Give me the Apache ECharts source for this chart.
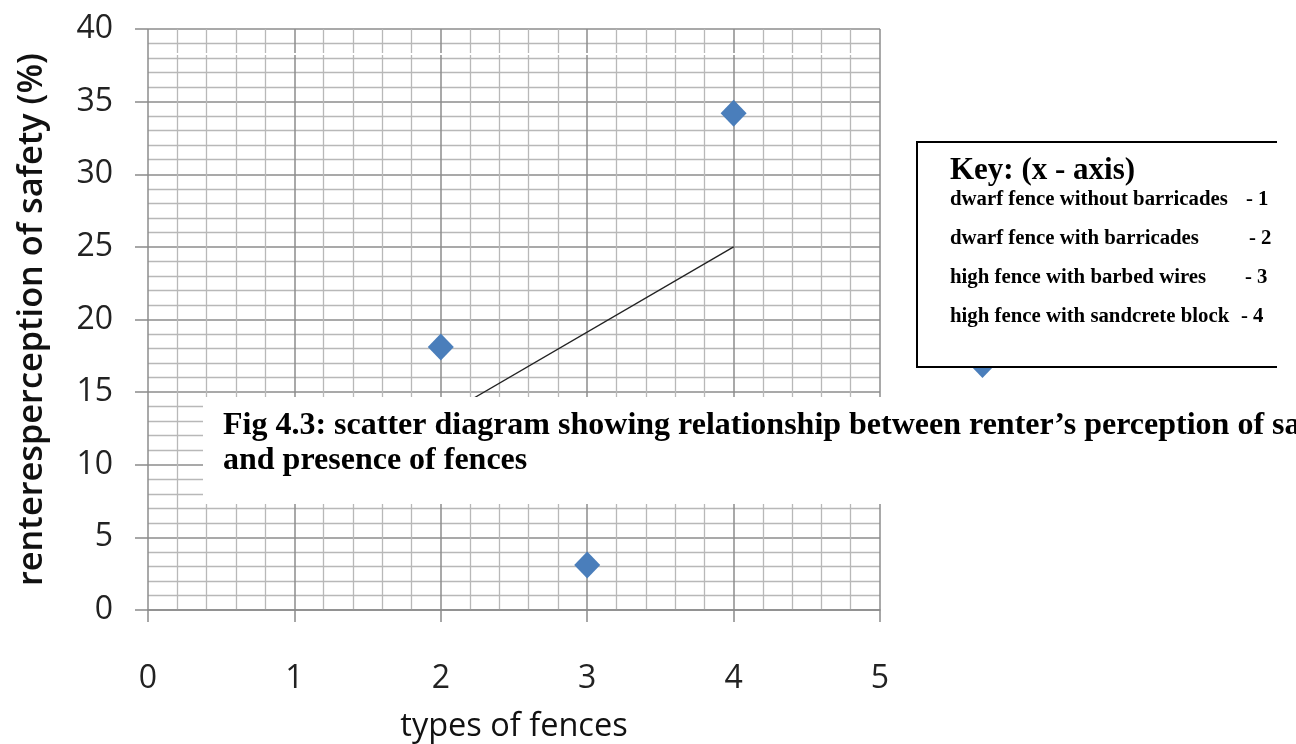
<!DOCTYPE html>
<html>
<head>
<meta charset="utf-8">
<script src="https://cdn.jsdelivr.net/npm/echarts@6/dist/echarts.min.js"></script>
<style>
html,body{margin:0;padding:0;background:#fff;}
#chart{width:1296px;height:744px;}
</style>
</head>
<body>
<div id="chart"></div>
<script>
// ---- data ----
const fenceType = [1, 2, 3, 4, 5.7];
const safetyPct = [9.6, 18.1, 3.1, 34.2, 16.9];
const trendX = [1, 4];
const trendY = [7.4, 25.0];
const xTicks = [0, 1, 2, 3, 4, 5];
const yTicks = [0, 5, 10, 15, 20, 25, 30, 35, 40];
const xTitle = 'types of fences';
const yTitle = 'renteresperception of safety (%)';
const captionLines = ['Fig 4.3: scatter diagram showing relationship between renter\u2019s perception of safety', 'and presence of fences'];
const keyTitle = 'Key: (x - axis)';
const keyLabels = ['dwarf fence without barricades', 'dwarf fence with barricades', 'high fence with barbed wires', 'high fence with sandcrete block'];
const keyCodes = ['- 1', '- 2', '- 3', '- 4'];

const scatterData = fenceType.map((x, i) => [x, safetyPct[i]]);
const trendData = trendX.map((x, i) => [x, trendY[i]]);

const serif = '"Liberation Serif","Times New Roman",serif';
const sans = '"Open Sans","Liberation Sans",sans-serif';

const chart = echarts.init(document.getElementById('chart'));

const graphics = [];
// white artifact line across grid
graphics.push({type:'rect', z:90, shape:{x:149, y:53, width:730, height:2}, style:{fill:'#fff'}});
// caption box
graphics.push({type:'rect', z:100, shape:{x:203, y:397, width:1120, height:107}, style:{fill:'#fff'}});
const capY = [426, 461];
captionLines.forEach((t, i) => {
  graphics.push({type:'text', z:101, x:223, y:capY[i], style:{text:t, fill:'#000', font:'bold 32px ' + serif, verticalAlign:'middle', align:'left'}});
});
// key box
graphics.push({type:'rect', z:100, shape:{x:917, y:142, width:400, height:225}, style:{fill:'#fff'}});
graphics.push({type:'polyline', z:101, shape:{points:[[1277,142],[917,142],[917,367],[1277,367]]}, style:{stroke:'#000', lineWidth:2, fill:null}});
graphics.push({type:'text', z:101, x:950, y:171, style:{text:keyTitle, fill:'#000', font:'bold 31px ' + serif, verticalAlign:'middle'}});
const keyY = [200, 239, 278, 317];
const codeX = [1246, 1249, 1245, 1241];
keyLabels.forEach((t, i) => {
  graphics.push({type:'text', z:101, x:950, y:keyY[i], style:{text:t, fill:'#000', font:'bold 20.8px ' + serif, verticalAlign:'middle'}});
  graphics.push({type:'text', z:101, x:codeX[i], y:keyY[i], style:{text:keyCodes[i], fill:'#000', font:'bold 20.8px ' + serif, verticalAlign:'middle'}});
});

chart.setOption({
  animation: false,
  backgroundColor: '#fff',
  grid: {left:148, right:416, top:29, bottom:134, containLabel:false, outerBoundsMode:'none'},
  xAxis: {
    type:'value', min:xTicks[0], max:xTicks[xTicks.length-1], interval:1,
    name:xTitle, nameLocation:'middle', nameGap:100,
    nameTextStyle:{fontFamily:sans, fontSize:32.5, color:'#111'},
    axisLine:{show:true, onZero:false, lineStyle:{color:'#8a8a8a', width:1.5}},
    axisTick:{show:true, length:12, lineStyle:{color:'#8a8a8a', width:1.5}},
    axisLabel:{margin:53, fontFamily:sans, fontSize:32, color:'#222'},
    splitLine:{show:true, lineStyle:{color:'#8c8c8c', width:1.5}},
    minorTick:{show:false, splitNumber:5},
    minorSplitLine:{show:true, lineStyle:{color:'#b8b8b8', width:1.3}}
  },
  yAxis: {
    type:'value', min:yTicks[0], max:yTicks[yTicks.length-1], interval:5,
    name:yTitle, nameLocation:'middle', nameGap:99, nameRotate:90,
    nameTextStyle:{fontFamily:sans, fontSize:34.3, fontWeight:600, color:'#111'},
    axisLine:{show:false},
    axisTick:{show:true, length:13, lineStyle:{color:'#8a8a8a', width:1.5}},
    axisLabel:{margin:35, fontFamily:sans, fontSize:32, color:'#222'},
    splitLine:{show:true, lineStyle:{color:'#8c8c8c', width:1.5}},
    minorTick:{show:false, splitNumber:5},
    minorSplitLine:{show:true, lineStyle:{color:'#b8b8b8', width:1.3}}
  },
  series: [
    {type:'line', data:trendData, showSymbol:false, symbol:'none', clip:false,
     lineStyle:{color:'#222', width:1.3}, z:3},
    {type:'scatter', data:scatterData, symbol:'diamond', symbolSize:[26,27], clip:false,
     itemStyle:{color:'#4a7ebb', opacity:1}, z:4}
  ],
  graphic: graphics
});
</script>
</body>
</html>
